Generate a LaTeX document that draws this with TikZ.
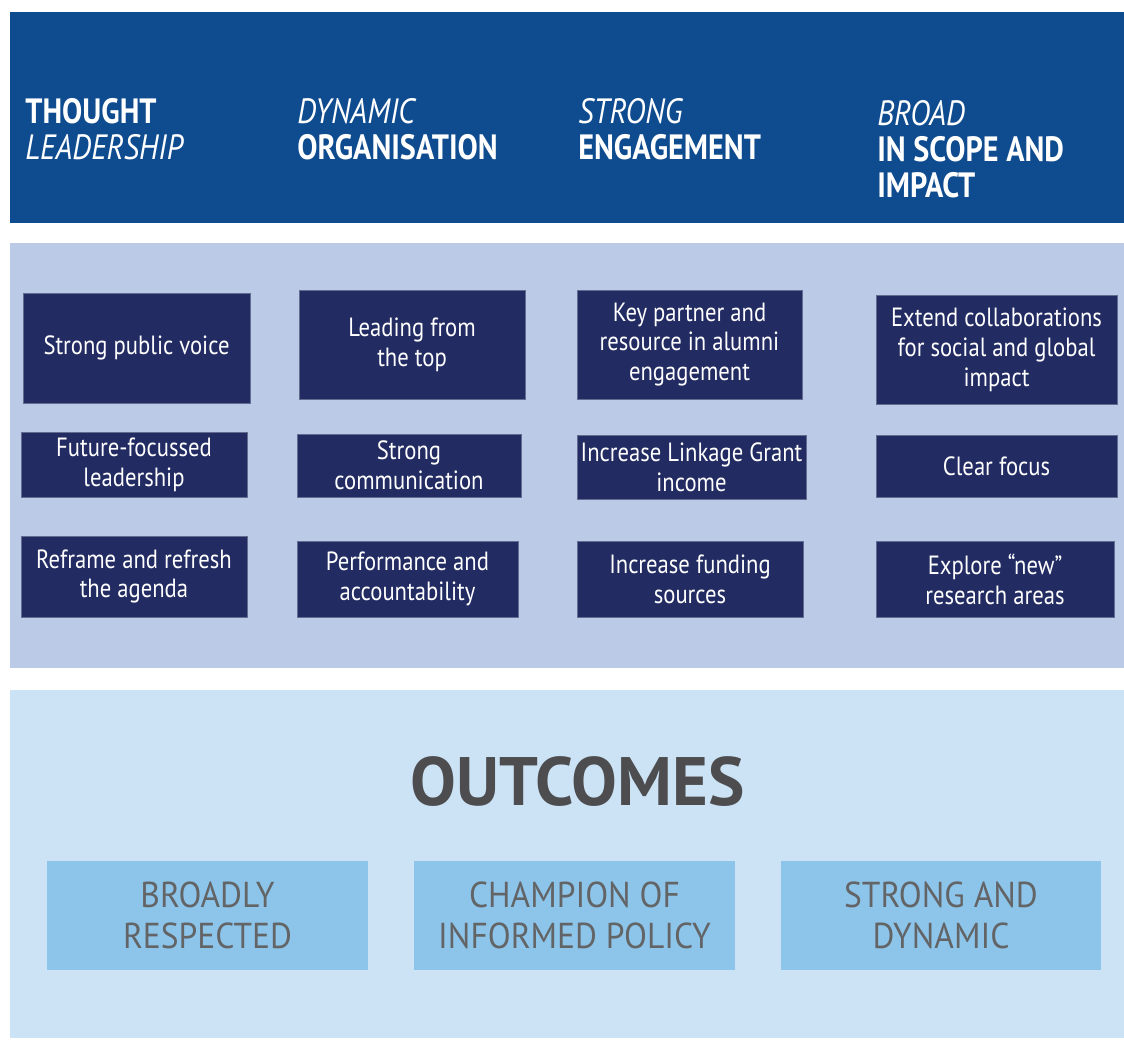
\documentclass[tikz,border=0pt]{standalone}
\usepackage{fontspec}
\setmainfont{PT Sans}[FakeStretch=0.86]
\newfontfamily\widefont{PT Sans}
\newfontfamily\outfont{PT Sans}[FakeStretch=0.93]
\usepackage{xcolor}
\usepackage{tikz}
\usetikzlibrary{positioning}

\definecolor{topblue}{HTML}{0F4C8F}
\definecolor{midblue}{HTML}{BBCBE7}
\definecolor{navy}{HTML}{222B62}
\definecolor{paleblue}{HTML}{CCE3F5}
\definecolor{skyblue}{HTML}{8DC5EA}
\definecolor{darkgrey}{HTML}{4D4D4F}
\definecolor{midgrey}{HTML}{636466}

\begin{document}
\begin{tikzpicture}[x=0.02cm, y=-0.02cm]
		\tikzset{
		    band/.style={fill=#1},
		    head/.style={anchor=north west, align=left, text=white, inner sep=0pt,
		        font=\fontsize{20}{20.4}\selectfont\bfseries},
		    item/.style={fill=navy, draw=navy!70!white, line width=0.4pt, text=white, align=center,
		        inner sep=0pt, font=\fontsize{15}{17}\selectfont},
		    outbox/.style={fill=skyblue, text=midgrey, align=center, inner sep=0pt,
		        minimum width=6.42cm, minimum height=2.18cm,
		        font=\outfont\fontsize{20.5}{23.2}\selectfont},
		    title/.style={text=darkgrey, inner sep=0pt,
		        font=\widefont\fontsize{39}{44}\selectfont\bfseries}
		}
		\useasboundingbox (0,0) rectangle (1124,1039);
		\fill[band=topblue] (10,12) rectangle (1124,223);
		\fill[band=midblue] (10,243) rectangle (1124,668);
		\fill[band=paleblue] (10,690) rectangle (1124,1038);

		\node[head] (h1) at (25,98) {THOUGHT\\{\mdseries\itshape LEADERSHIP}};
		\node[head] (h2) at (297,98) {{\mdseries\itshape DYNAMIC}\\ORGANISATION};
		\node[head] (h3) at (578,98) {{\mdseries\itshape STRONG}\\ENGAGEMENT};
		\node[head] (h4) at (877,100) {{\mdseries\itshape BROAD}\\IN SCOPE AND\\IMPACT};

		\node[item, minimum width=4.54cm, minimum height=2.2cm] (pv) at (136.5,348) {Strong public voice};
		\node[item, minimum width=4.52cm, minimum height=1.3cm] (ff) at (134,464.5) {Future-focussed\\leadership};
		\node[item, minimum width=4.52cm, minimum height=1.62cm] (rr) at (134,576.5) {Reframe and refresh\\the agenda};

		\node[item, minimum width=4.52cm, minimum height=2.18cm] (lt) at (412,344.5) {Leading from\\the top};
		\node[item, minimum width=4.48cm, minimum height=1.26cm] (sc) at (409,465.5) {Strong\\communication};
		\node[item, minimum width=4.42cm, minimum height=1.52cm] (pa) at (407.5,579) {Performance and\\accountability};

		\node[item, minimum width=4.5cm, minimum height=2.18cm] (kp) at (689.5,344.5) {Key partner and\\resource in alumni\\engagement};
		\node[item, minimum width=4.58cm, minimum height=1.28cm] (lg) at (691.5,467) {Increase Linkage Grant\\income};
		\node[item, minimum width=4.52cm, minimum height=1.52cm] (fs) at (690,579) {Increase funding\\sources};

		\node[item, minimum width=4.82cm, minimum height=2.18cm] (ec) at (996.5,349.5) {Extend collaborations\\for social and global\\impact};
		\node[item, minimum width=4.82cm, minimum height=1.24cm] (cf) at (996.5,466) {Clear focus};
		\node[item, minimum width=4.76cm, minimum height=1.52cm] (ex) at (995,579) {Explore “new”\\research areas};

		\node[title] (oc) at (577.5,781) {OUTCOMES};
		\node[outbox] (o1) at (207.5,915.5) {BROADLY\\RESPECTED};
		\node[outbox] (o2) at (574.5,915.5) {CHAMPION OF\\INFORMED POLICY};
		\node[outbox] (o3) at (941,915.5) {STRONG AND\\DYNAMIC};
		\end{tikzpicture}
\end{document}
